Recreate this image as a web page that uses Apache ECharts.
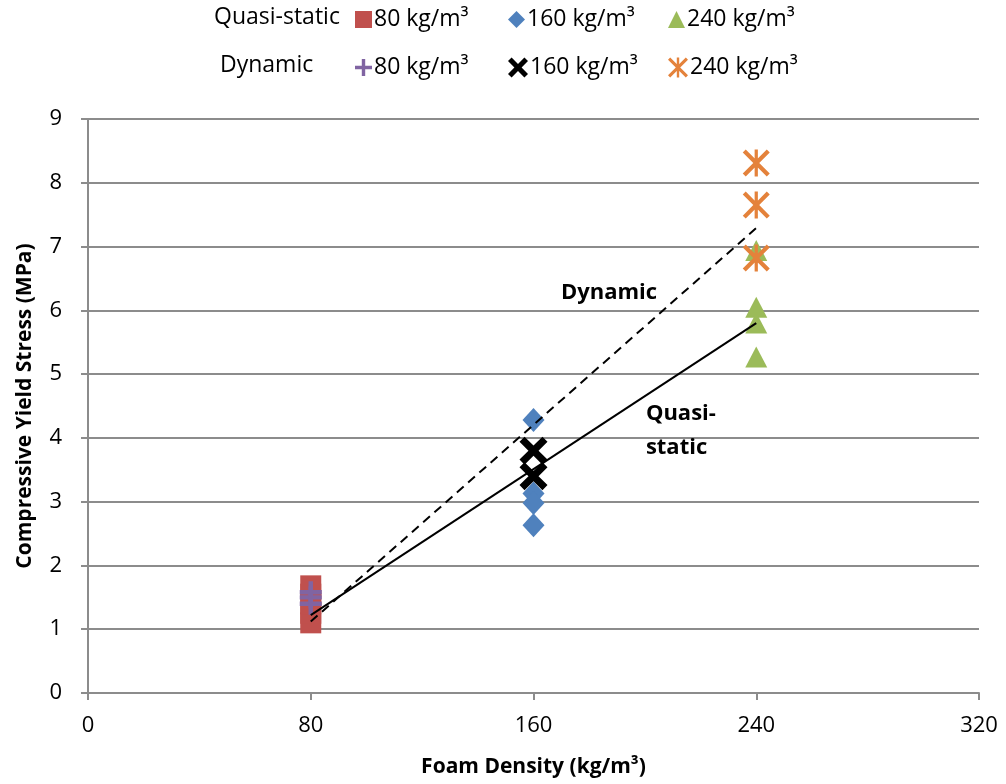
<!DOCTYPE html>
<html>
<head>
<meta charset="utf-8">
<script src="https://cdn.jsdelivr.net/npm/echarts@6/dist/echarts.min.js"></script>
<style>
html,body{margin:0;padding:0;background:#fff;}
#chart{width:1006px;height:784px;}
</style>
</head>
<body>
<div id="chart"></div>
<script>
// ---- data ----
const xTicks = [0, 80, 160, 240, 320];
const yTicks = [0, 1, 2, 3, 4, 5, 6, 7, 8, 9];
const densities = [80, 160, 240];
const groupLabels = ['Quasi-static', 'Dynamic'];
const legendNames = ['80 kg/m³', '160 kg/m³', '240 kg/m³'];
const qs80 = [1.1, 1.25, 1.4, 1.55, 1.68];
const qs160 = [4.28, 3.13, 2.98, 2.63];
const qs240 = [6.94, 6.05, 5.8, 5.27];
const dyn80 = [1.4, 1.5, 1.58];
const dyn160 = [3.8, 3.4];
const dyn240 = [8.31, 7.65, 6.82];
const qsTrendX = [80, 240];
const qsTrendY = [1.22, 5.8];
const dynTrendX = [80, 240];
const dynTrendY = [1.12, 7.29];
const annotations = [
  { text: 'Dynamic', x: 169.5, y: 6.27 },
  { text: 'Quasi-\nstatic', x: 200, y: 4.12 }
];

const FONT = '"Open Sans", sans-serif';

const PLUS = 'path://M40,0H60V40H100V60H60V100H40V60H0V40H40Z';
const XMARK = 'path://M0,18L18,0L50,32L82,0L100,18L68,50L100,82L82,100L50,68L18,100L0,82L32,50Z';
const STAR = 'path://M0,11L11,0L50,39L89,0L100,11L61,50L100,89L89,100L50,61L11,100L0,89L39,50Z M44,0H56V100H44Z';

const specs = [
  { id: 'QS 80', vals: qs80, x: densities[0], color: '#C0504D', symbol: 'rect', size: 21 },
  { id: 'QS 160', vals: qs160, x: densities[1], color: '#4F81BD', symbol: 'diamond', size: [22, 24] },
  { id: 'QS 240', vals: qs240, x: densities[2], color: '#9BBB59', symbol: 'triangle', size: [22, 21] },
  { id: 'DY 80', vals: dyn80, x: densities[0], color: '#8064A2', symbol: PLUS, size: 22 },
  { id: 'DY 160', vals: dyn160, x: densities[1], color: '#000000', symbol: XMARK, size: 28 },
  { id: 'DY 240', vals: dyn240, x: densities[2], color: '#E4823B', symbol: STAR, size: 27 }
];

const series = specs.map(s => ({
  type: 'scatter',
  name: s.id,
  symbol: s.symbol,
  symbolSize: s.size,
  itemStyle: { color: s.color, opacity: 1 },
  data: s.vals.map(v => [s.x, v]),
  z: 3
}));

series.push({
  type: 'line', name: 'qsTrend', data: qsTrendX.map((x, i) => [x, qsTrendY[i]]),
  symbol: 'none', lineStyle: { color: '#000', width: 2 }, z: 5, silent: true
});
series.push({
  type: 'line', name: 'dynTrend', data: dynTrendX.map((x, i) => [x, dynTrendY[i]]),
  symbol: 'none', lineStyle: { color: '#000', width: 2, type: [9, 6] }, z: 5, silent: true
});
series.push({
  type: 'scatter', name: 'annot', symbol: 'circle', symbolSize: 2, silent: true,
  itemStyle: { color: 'rgba(0,0,0,0)' },
  data: annotations.map(a => ({ value: [a.x, a.y], label: { formatter: a.text } })),
  label: { show: true, position: 'right', distance: 0, color: '#000000', opacity: 1, textBorderWidth: 0, fontFamily: FONT, fontWeight: 'bold', fontSize: 22, align: 'left', lineHeight: 34 },
  z: 6
});

// legend positions (icon left px, row top px)
const legendPos = [
  [355, 8], [508, 8], [668, 8],
  [355, 56], [508, 56], [668, 56]
];
const legends = specs.map((s, i) => ({
  data: [s.id],
  left: legendPos[i][0],
  top: legendPos[i][1],
  itemWidth: i === 4 || i === 5 ? 20 : 17,
  itemHeight: i === 4 || i === 5 ? 20 : 17,
  itemGap: 0,
  padding: 0,
  selectedMode: false,
  formatter: () => legendNames[i % 3],
  textStyle: { fontFamily: FONT, fontSize: 23, color: '#000', padding: [0, 0, 0, -3] }
}));

const chart = echarts.init(document.getElementById('chart'));
chart.setOption({
  backgroundColor: '#fff',
  animation: false,
  legend: legends,
  graphic: [
    { type: 'text', left: 214, top: 6, style: { text: groupLabels[0], font: '23px ' + FONT, fill: '#000' } },
    { type: 'text', left: 220, top: 54, style: { text: groupLabels[1], font: '23px ' + FONT, fill: '#000' } }
  ],
  grid: { left: 88, right: 27, top: 119, bottom: 91 },
  xAxis: {
    type: 'value', min: xTicks[0], max: xTicks[xTicks.length - 1], interval: 80,
    name: 'Foam Density (kg/m³)', nameLocation: 'middle', nameGap: 64,
    nameTextStyle: { fontFamily: FONT, fontWeight: 'bold', fontSize: 21, color: '#000' },
    axisLine: { lineStyle: { color: '#8c8c8c', width: 2 } },
    axisTick: { show: true, length: 7, lineStyle: { color: '#8c8c8c', width: 2 } },
    axisLabel: { fontFamily: FONT, fontSize: 22, color: '#000', margin: 22 },
    splitLine: { show: false }
  },
  yAxis: {
    type: 'value', min: yTicks[0], max: yTicks[yTicks.length - 1], interval: 1,
    name: 'Compressive Yield Stress (MPa)', nameLocation: 'middle', nameGap: 52,
    nameTextStyle: { fontFamily: FONT, fontWeight: 'bold', fontSize: 21, color: '#000' },
    axisLine: { show: true, lineStyle: { color: '#8c8c8c', width: 2 } },
    axisTick: { show: true, length: 7, lineStyle: { color: '#8c8c8c', width: 2 } },
    axisLabel: { fontFamily: FONT, fontSize: 22, color: '#000', margin: 26 },
    splitLine: { show: true, lineStyle: { color: '#8c8c8c', width: 2 } }
  },
  series: series
});
</script>
</body>
</html>
